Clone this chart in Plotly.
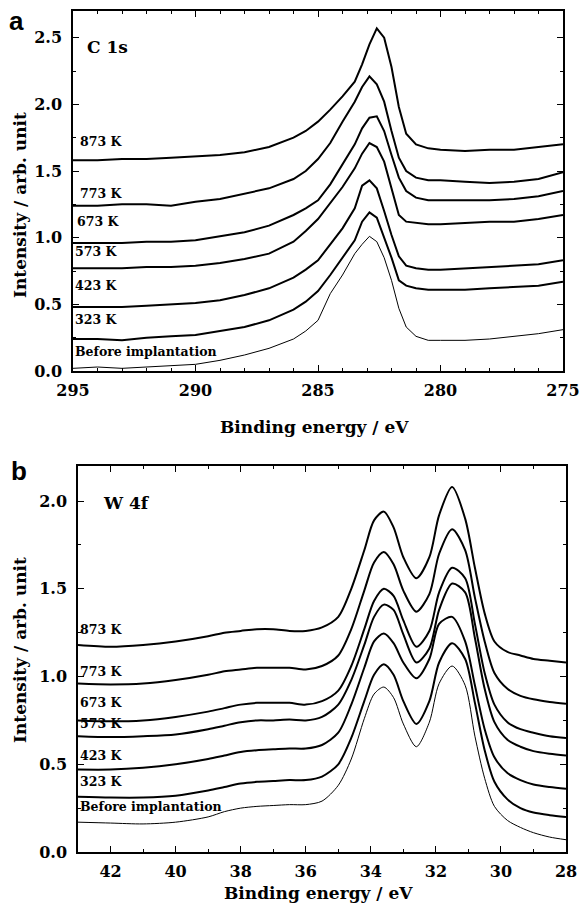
import plotly.graph_objects as go

# ---------------- Panel a : C 1s ----------------
A_X = [295, 294, 293, 292, 291, 290, 289, 288, 287, 286, 285.5, 285, 284.5, 284, 283.5,
       283.2, 282.9, 282.6, 282.3, 282, 281.7, 281.4, 281, 280.5, 280, 279, 278, 277, 276, 275]
A_873 = [1.58, 1.58, 1.59, 1.59, 1.60, 1.61, 1.62, 1.64, 1.68, 1.75, 1.80, 1.87, 1.96, 2.06, 2.17,
         2.30, 2.45, 2.57, 2.50, 2.28, 1.98, 1.78, 1.70, 1.67, 1.66, 1.65, 1.66, 1.66, 1.68, 1.70]
A_773 = [1.24, 1.24, 1.25, 1.25, 1.24, 1.27, 1.29, 1.33, 1.37, 1.44, 1.50, 1.59, 1.71, 1.87, 2.02,
         2.13, 2.21, 2.15, 2.02, 1.80, 1.60, 1.50, 1.45, 1.43, 1.43, 1.42, 1.41, 1.42, 1.44, 1.49]
A_673 = [0.96, 0.96, 0.96, 0.97, 0.97, 0.98, 1.01, 1.04, 1.09, 1.17, 1.22, 1.28, 1.40, 1.55, 1.70,
         1.82, 1.90, 1.91, 1.80, 1.62, 1.45, 1.35, 1.30, 1.28, 1.28, 1.28, 1.28, 1.29, 1.31, 1.35]
A_573 = [0.77, 0.77, 0.77, 0.78, 0.78, 0.79, 0.81, 0.84, 0.88, 0.97, 1.05, 1.14, 1.26, 1.38, 1.52,
         1.63, 1.71, 1.68, 1.57, 1.36, 1.17, 1.12, 1.11, 1.10, 1.10, 1.11, 1.12, 1.12, 1.14, 1.17]
A_423 = [0.48, 0.48, 0.48, 0.49, 0.50, 0.51, 0.53, 0.57, 0.62, 0.70, 0.76, 0.83, 0.95, 1.07, 1.22,
         1.39, 1.43, 1.37, 1.20, 1.02, 0.86, 0.79, 0.77, 0.76, 0.76, 0.77, 0.78, 0.79, 0.80, 0.83]
A_323 = [0.24, 0.24, 0.23, 0.25, 0.26, 0.27, 0.30, 0.33, 0.38, 0.46, 0.52, 0.60, 0.72, 0.85, 0.98,
         1.12, 1.19, 1.15, 1.00, 0.85, 0.68, 0.64, 0.62, 0.61, 0.61, 0.61, 0.62, 0.63, 0.64, 0.67]
A_BEFORE = [0.02, 0.03, 0.02, 0.03, 0.04, 0.05, 0.08, 0.12, 0.17, 0.24, 0.30, 0.38, 0.58, 0.72, 0.88,
            0.95, 1.01, 0.97, 0.85, 0.68, 0.47, 0.33, 0.26, 0.23, 0.23, 0.23, 0.24, 0.26, 0.28, 0.31]

# ---------------- Panel b : W 4f ----------------
B_X = [43, 42, 41, 40, 39, 38.5, 38, 37.5, 37, 36.5, 36, 35.5, 35, 34.6, 34.2, 33.9, 33.6, 33.3,
       33, 32.6, 32.2, 31.9, 31.5, 31.1, 30.8, 30.5, 30.2, 29.8, 29.4, 29, 28.5, 28]
B_873 = [1.18, 1.17, 1.18, 1.20, 1.23, 1.25, 1.26, 1.27, 1.27, 1.26, 1.26, 1.28, 1.34, 1.50, 1.72, 1.89,
         1.94, 1.85, 1.68, 1.56, 1.68, 1.92, 2.08, 1.90, 1.62, 1.36, 1.20, 1.14, 1.12, 1.10, 1.09, 1.08]
B_773 = [0.96, 0.955, 0.96, 0.98, 1.01, 1.03, 1.04, 1.05, 1.05, 1.05, 1.04, 1.06, 1.12, 1.27, 1.49, 1.65,
         1.71, 1.64, 1.49, 1.37, 1.47, 1.70, 1.84, 1.72, 1.45, 1.20, 1.02, 0.93, 0.89, 0.87, 0.855, 0.845]
B_673 = [0.75, 0.745, 0.75, 0.77, 0.80, 0.82, 0.84, 0.85, 0.85, 0.85, 0.84, 0.86, 0.92, 1.06, 1.27, 1.43,
         1.50, 1.46, 1.32, 1.17, 1.26, 1.48, 1.62, 1.56, 1.30, 1.02, 0.84, 0.74, 0.70, 0.68, 0.66, 0.65]
B_573 = [0.66, 0.655, 0.66, 0.67, 0.70, 0.72, 0.74, 0.75, 0.75, 0.755, 0.75, 0.77, 0.84, 0.98, 1.18, 1.34,
         1.41, 1.38, 1.24, 1.08, 1.16, 1.38, 1.53, 1.48, 1.22, 0.93, 0.74, 0.64, 0.60, 0.575, 0.56, 0.55]
B_423 = [0.47, 0.47, 0.48, 0.50, 0.53, 0.55, 0.57, 0.58, 0.585, 0.59, 0.59, 0.61, 0.68, 0.84, 1.05, 1.20,
         1.245, 1.19, 1.08, 0.99, 1.10, 1.30, 1.34, 1.20, 0.95, 0.70, 0.54, 0.45, 0.41, 0.385, 0.37, 0.36]
B_323 = [0.315, 0.31, 0.31, 0.32, 0.35, 0.37, 0.39, 0.40, 0.405, 0.41, 0.41, 0.43, 0.50, 0.65, 0.86, 1.01,
         1.07, 1.01, 0.86, 0.73, 0.86, 1.08, 1.19, 1.10, 0.85, 0.58, 0.40, 0.30, 0.25, 0.225, 0.21, 0.20]
B_BEFORE = [0.17, 0.165, 0.16, 0.17, 0.20, 0.23, 0.25, 0.26, 0.265, 0.27, 0.27, 0.29, 0.38, 0.53, 0.76, 0.90,
            0.94, 0.88, 0.73, 0.60, 0.74, 0.96, 1.06, 0.95, 0.66, 0.42, 0.26, 0.18, 0.14, 0.11, 0.085, 0.07]

SERIES_NAMES = ["873 K", "773 K", "673 K", "573 K", "423 K", "323 K", "Before implantation"]
A_LABEL_Y = [1.72, 1.33, 1.12, 0.90, 0.64, 0.39, 0.15]
B_LABEL_Y = [1.27, 1.03, 0.85, 0.73, 0.55, 0.40, 0.26]
A_LABEL_X = [294.8, 294.8, 294.9, 295.0, 295.0, 295.0, 295.0]
B_LABEL_X = [43.0, 43.0, 43.0, 43.0, 43.0, 43.0, 43.0]

A_SERIES = [A_873, A_773, A_673, A_573, A_423, A_323, A_BEFORE]
B_SERIES = [B_873, B_773, B_673, B_573, B_423, B_323, B_BEFORE]

W, H = 580, 905


def fx(px):
    return px / W


def fy(py):
    return 1 - py / H


SERIF = "DejaVu Serif"
fig = go.Figure()

for name, ys in zip(SERIES_NAMES, A_SERIES):
    thin = name.startswith("Before")
    fig.add_trace(go.Scatter(x=A_X, y=ys, mode="lines", name=name, showlegend=False,
                             line=dict(color="black", width=1 if thin else 2),
                             xaxis="x", yaxis="y"))
for name, ys in zip(SERIES_NAMES, B_SERIES):
    thin = name.startswith("Before")
    fig.add_trace(go.Scatter(x=B_X, y=ys, mode="lines", name=name, showlegend=False,
                             line=dict(color="black", width=1 if thin else 2, shape="spline", smoothing=0.8),
                             xaxis="x2", yaxis="y2"))

tickfont = dict(family=SERIF, size=16, color="black", weight="bold")
common = dict(showline=True, linecolor="black", linewidth=1.5, mirror="ticks",
              ticks="inside", ticklen=6, tickwidth=1, tickcolor="black", automargin=False,
              showgrid=False, zeroline=False, tickfont=tickfont)

fig.update_layout(
    width=W, height=H, margin=dict(l=0, r=0, t=0, b=0, autoexpand=False),
    plot_bgcolor="white", paper_bgcolor="white",
    xaxis=dict(domain=[fx(73), fx(563)], anchor="y", range=[295, 275], tick0=275, dtick=5,
               ticklabelstandoff=4,
               minor=dict(dtick=1, ticks="inside", ticklen=3, tickcolor="black"), **common),
    yaxis=dict(domain=[fy(371), fy(11)], anchor="x", range=[0, 2.7], tick0=0, dtick=0.5,
               tickformat=".1f", ticklabelstandoff=6,
               minor=dict(dtick=0.25, ticks="inside", ticklen=3, tickcolor="black"), **common),
    xaxis2=dict(domain=[fx(78), fx(566)], anchor="y2", range=[43, 28], tick0=28, dtick=2,
                ticklabelstandoff=4,
                minor=dict(dtick=1, ticks="inside", ticklen=3, tickcolor="black"), **common),
    yaxis2=dict(domain=[fy(852), fy(466)], anchor="x2", range=[0, 2.2], tick0=0, dtick=0.5,
                tickformat=".1f", ticklabelstandoff=6,
                minor=dict(dtick=0.25, ticks="inside", ticklen=3, tickcolor="black"), **common),
)

labfont = dict(family=SERIF, size=12.5, color="black", weight="bold")
for name, lx, ly in zip(SERIES_NAMES, A_LABEL_X, A_LABEL_Y):
    fig.add_annotation(x=lx, y=ly, xref="x", yref="y", text=name, showarrow=False,
                       xanchor="left", yanchor="middle", font=labfont)
for name, lx, ly in zip(SERIES_NAMES, B_LABEL_X, B_LABEL_Y):
    fig.add_annotation(x=lx, y=ly, xref="x2", yref="y2", text=name, showarrow=False,
                       xanchor="left", yanchor="middle", font=labfont)

titlefont = dict(family=SERIF, size=17, color="black", weight="bold")
fig.add_annotation(x=294.5, y=2.43, xref="x", yref="y", text="C 1s", showarrow=False,
                   xanchor="left", yanchor="middle", font=titlefont)
fig.add_annotation(x=42.3, y=1.99, xref="x2", yref="y2", text="W 4f", showarrow=False,
                   xanchor="left", yanchor="middle", font=titlefont)

axfont = dict(family=SERIF, size=17, color="black", weight="bold")
fig.add_annotation(x=fx(20), y=fy(205), xref="paper", yref="paper", text="Intensity / arb. unit",
                   textangle=-90, showarrow=False, xanchor="center", yanchor="middle", font=axfont)
fig.add_annotation(x=fx(20), y=fy(650), xref="paper", yref="paper", text="Intensity / arb. unit",
                   textangle=-90, showarrow=False, xanchor="center", yanchor="middle", font=axfont)
fig.add_annotation(x=fx(314), y=fy(427), xref="paper", yref="paper", text="Binding energy / eV",
                   showarrow=False, xanchor="center", yanchor="middle", font=axfont)
fig.add_annotation(x=fx(318), y=fy(893), xref="paper", yref="paper", text="Binding energy / eV",
                   showarrow=False, xanchor="center", yanchor="middle", font=axfont)

letterfont = dict(family="Liberation Sans", size=26, color="black", weight="bold")
fig.add_annotation(x=fx(16), y=fy(21), xref="paper", yref="paper", text="a", showarrow=False,
                   xanchor="center", yanchor="middle", font=letterfont)
fig.add_annotation(x=fx(19), y=fy(471), xref="paper", yref="paper", text="b", showarrow=False,
                   xanchor="center", yanchor="middle", font=letterfont)

# the default page has an 8 px body margin; remove it so the figure fills the window
fig.write_html("out.html", config={"displayModeBar": False},
               post_script="document.body.style.margin='0px';document.body.style.overflow='hidden';")
